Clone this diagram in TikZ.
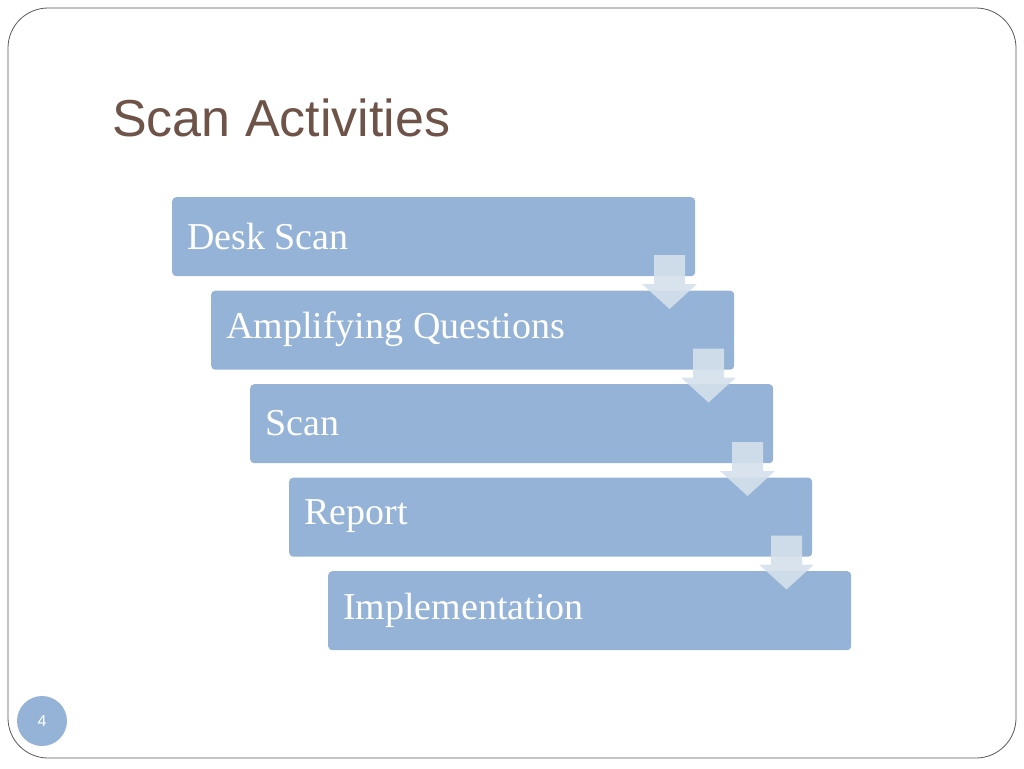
\documentclass[tikz,border=0pt]{standalone}
\usepackage{fontspec}
\setmainfont{Liberation Serif}
\newfontfamily\titlefont{Liberation Sans}
\definecolor{boxc}{HTML}{95B3D7}
\definecolor{arrc}{HTML}{D5E0EC}
\definecolor{titlec}{HTML}{6E5448}
\begin{document}
\begin{tikzpicture}[x=1pt,y=-1pt,
  stepbox/.style={fill=boxc,rounded corners=4pt,minimum width=523pt,minimum height=79pt,anchor=north west,inner sep=0pt},
  steplbl/.style={text=white,font=\fontsize{38}{41}\selectfont,anchor=west,inner sep=0pt}]
\useasboundingbox (0,0) rectangle (1024,768);
\draw[gray!70!black,line width=0.8pt,rounded corners=40pt] (8,8) rectangle (1016,758);
\node[font=\titlefont\fontsize{52}{56}\selectfont,text=titlec,anchor=west,inner sep=0pt] (title) at (112,118) {Scan Activities};
\foreach \i/\t in {0/Desk Scan,1/Amplifying Questions,2/Scan,3/Report,4/Implementation}{
  \node[stepbox] (b\i) at ({172+39*\i},{197+93.5*\i}) {};
  \node[steplbl] (l\i) at ({187+39*\i},{236+93.5*\i}) {\t};
}
\foreach \i in {0,1,2,3}{
  \fill[arrc,opacity=0.9] ({654+39*\i},{255+93.5*\i}) -- ({685+39*\i},{255+93.5*\i}) -- ({685+39*\i},{284+93.5*\i}) -- ({697+39*\i},{284+93.5*\i}) -- ({669.5+39*\i},{309+93.5*\i}) -- ({642+39*\i},{284+93.5*\i}) -- ({654+39*\i},{284+93.5*\i}) -- cycle;
}
\node[circle,fill=boxc,minimum size=50pt,text=white,font=\titlefont\fontsize{16}{18}\selectfont] (pg) at (42,721) {4};
\end{tikzpicture}
\end{document}
